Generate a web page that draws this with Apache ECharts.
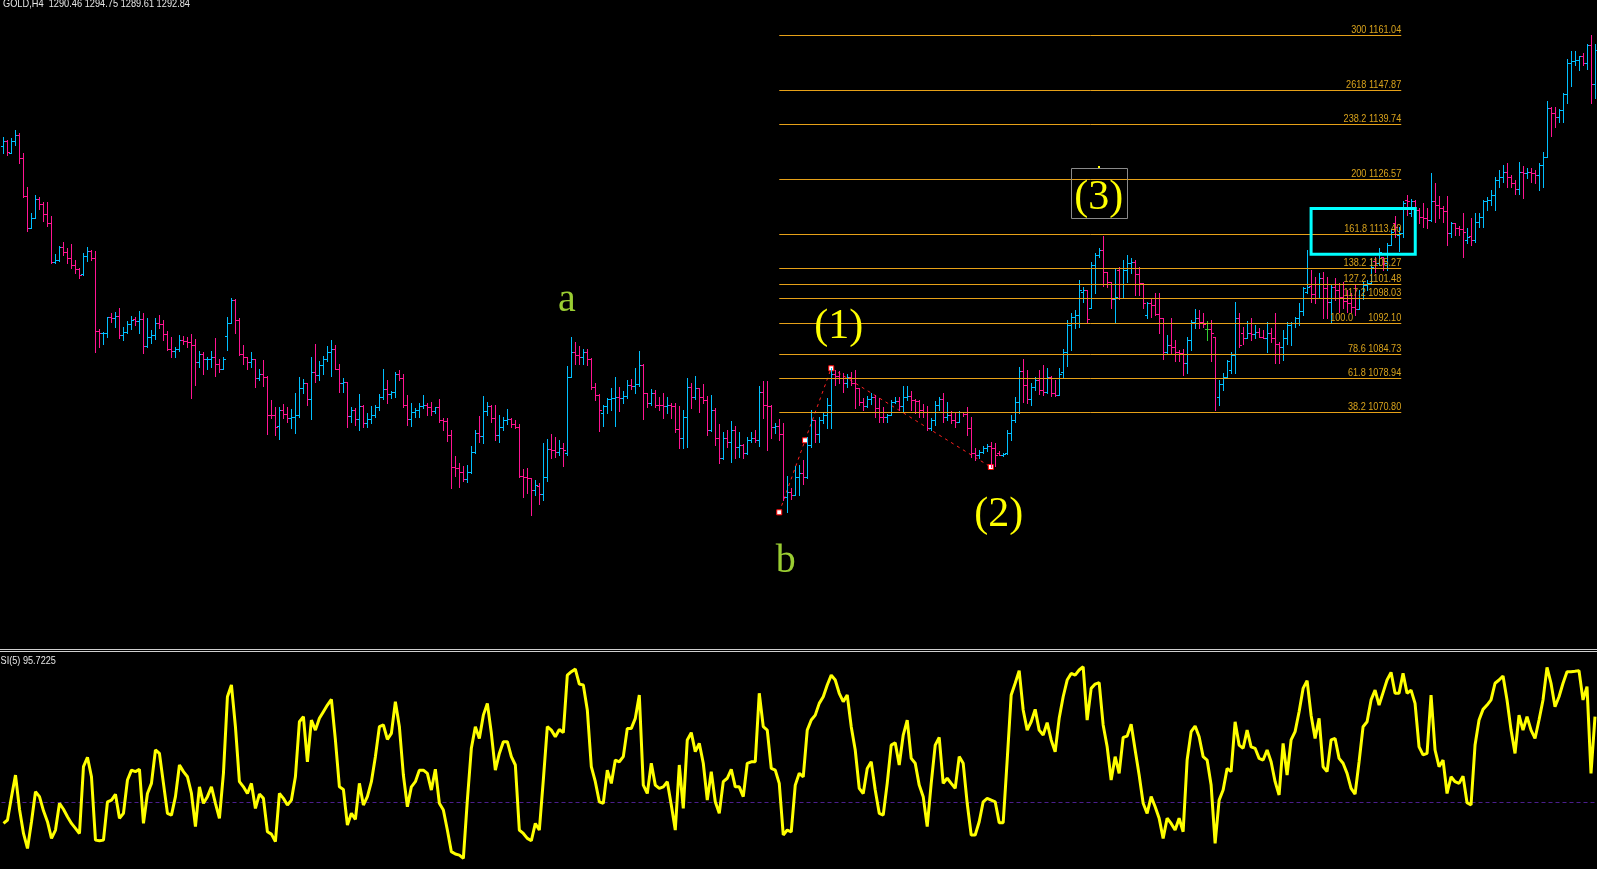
<!DOCTYPE html>
<html><head><meta charset="utf-8">
<script src="https://cdn.jsdelivr.net/npm/echarts/dist/echarts.min.js"></script>
<style>html,body{margin:0;padding:0;background:#000;overflow:hidden}#c{width:1597px;height:869px}</style>
</head><body><div id="c"></div><script>
// ---------- DATA ----------
// OHLC bars [open, high, low, close], GOLD H4
const bars = [
[1134.5,1136.7,1132.7,1135.7],[1135.7,1135.9,1132.3,1133.1],[1132.9,1136.3,1132.7,1135.7],[1135.7,1138.3,1134.7,1137.1],[1137.1,1137.7,1130.5,1131.5],
[1131.5,1132.9,1122.3,1122.6],[1122.6,1124.7,1114.2,1114.8],[1114.8,1118.4,1114.8,1117.3],[1117.3,1122.7,1117.2,1121.7],[1121.7,1122.3,1119.5,1120.7],
[1120.7,1121.1,1116.6,1118.1],[1118.1,1121.1,1115.3,1116.0],[1116.0,1117.7,1106.4,1106.8],[1106.8,1108.6,1106.4,1107.2],[1107.2,1110.5,1107.0,1110.4],
[1110.4,1111.5,1108.4,1109.2],[1109.2,1110.0,1106.4,1107.7],[1107.7,1111.0,1105.2,1105.9],[1105.9,1107.2,1104.0,1105.0],[1105.0,1105.2,1102.8,1103.6],
[1103.8,1108.8,1103.6,1108.2],[1108.2,1110.2,1107.0,1109.3],[1109.3,1109.6,1107.2,1107.7],[1107.7,1109.3,1085.2,1090.2],[1090.2,1090.6,1086.4,1089.6],
[1089.6,1090.0,1087.2,1089.8],[1089.6,1093.6,1088.8,1093.5],[1093.5,1094.6,1092.4,1093.3],[1093.3,1094.8,1091.2,1093.9],[1093.9,1095.6,1088.4,1089.2],
[1089.2,1091.2,1088.0,1089.9],[1089.9,1092.6,1089.6,1091.9],[1091.9,1093.8,1090.7,1092.8],[1093.0,1093.6,1091.6,1092.7],[1092.7,1095.0,1089.6,1093.0],
[1093.0,1094.4,1085.0,1086.7],[1086.7,1093.2,1086.4,1088.7],[1088.7,1090.4,1087.4,1089.2],[1089.2,1093.2,1088.2,1092.0],[1092.0,1094.0,1090.8,1091.9],
[1091.9,1092.8,1088.0,1089.4],[1089.4,1090.3,1085.6,1085.8],[1085.8,1088.7,1084.0,1085.4],[1085.4,1086.3,1084.0,1086.0],[1086.0,1089.2,1085.5,1088.0],
[1088.0,1089.0,1087.1,1087.9],[1087.9,1088.7,1086.4,1087.6],[1087.6,1089.5,1074.1,1086.8],[1086.8,1088.3,1077.3,1082.7],[1082.7,1085.5,1081.6,1084.8],
[1084.8,1085.2,1079.9,1083.4],[1083.4,1084.0,1081.2,1083.5],[1083.5,1085.5,1081.6,1083.9],[1083.9,1088.4,1079.4,1082.4],[1082.4,1083.4,1080.4,1081.2],
[1081.2,1083.9,1081.2,1083.6],[1089.1,1093.6,1085.6,1092.0],[1092.0,1098.0,1092.0,1097.6],[1097.6,1097.8,1089.8,1092.8],[1092.8,1093.2,1084.4,1084.7],
[1084.7,1086.8,1082.4,1083.9],[1083.9,1084.0,1081.2,1082.7],[1082.7,1085.2,1081.5,1083.4],[1083.4,1083.6,1076.9,1078.9],[1078.9,1081.2,1078.5,1080.0],
[1080.0,1083.2,1077.1,1079.1],[1079.1,1079.4,1065.5,1070.2],[1070.2,1073.7,1069.3,1070.1],[1070.1,1072.1,1065.3,1067.3],[1067.4,1071.9,1064.3,1071.3],
[1071.3,1072.7,1069.4,1070.3],[1070.3,1072.1,1068.5,1069.4],[1069.4,1071.6,1066.9,1069.7],[1069.7,1075.3,1065.9,1070.1],[1070.1,1079.3,1069.7,1076.5],
[1076.5,1078.6,1075.4,1077.7],[1077.7,1077.8,1072.5,1073.8],[1073.8,1083.9,1069.1,1080.4],[1080.4,1087.2,1077.9,1079.7],[1079.7,1083.1,1078.5,1082.0],
[1082.0,1084.2,1080.0,1083.4],[1083.4,1086.7,1083.1,1085.1],[1085.1,1088.0,1079.4,1085.8],[1085.8,1086.8,1081.1,1081.2],[1081.2,1082.4,1075.7,1077.7],
[1077.7,1078.9,1075.7,1077.9],[1077.9,1078.1,1067.3,1069.8],[1069.8,1072.1,1068.5,1071.3],[1071.3,1071.7,1067.7,1069.1],[1069.1,1075.1,1066.5,1072.3],
[1072.3,1072.5,1067.1,1068.2],[1068.2,1070.5,1067.1,1069.1],[1069.1,1072.2,1068.2,1070.1],[1070.1,1072.5,1069.5,1071.9],[1071.9,1075.1,1071.4,1074.5],
[1074.5,1081.2,1073.8,1076.3],[1076.3,1078.5,1072.9,1075.1],[1075.1,1075.9,1074.1,1075.7],[1075.7,1080.4,1074.5,1080.0],[1080.0,1080.8,1078.5,1078.9],
[1078.9,1080.0,1071.9,1072.6],[1072.6,1074.9,1067.7,1069.1],[1069.1,1072.9,1067.5,1070.7],[1070.7,1071.7,1069.5,1071.3],[1071.3,1073.0,1069.7,1072.3],
[1072.3,1074.9,1071.7,1072.4],[1072.4,1072.9,1070.1,1072.0],[1072.0,1073.3,1070.2,1071.0],[1071.0,1072.1,1070.5,1071.9],[1071.9,1073.9,1068.5,1068.9],
[1068.9,1069.3,1066.5,1068.7],[1068.7,1069.4,1063.9,1065.3],[1065.3,1066.6,1052.7,1057.7],[1057.7,1060.3,1055.6,1057.5],[1057.5,1058.7,1052.9,1056.4],
[1056.4,1057.9,1054.4,1054.8],[1054.8,1058.1,1054.1,1056.4],[1056.4,1062.7,1056.1,1061.3],[1061.3,1066.6,1061.1,1065.9],[1065.9,1069.8,1063.7,1065.0],
[1065.0,1074.6,1063.3,1071.1],[1071.1,1073.1,1070.1,1072.3],[1072.3,1072.5,1068.5,1069.3],[1069.3,1072.6,1064.1,1065.3],[1065.3,1070.1,1063.7,1067.1],
[1067.1,1069.7,1066.6,1069.0],[1069.0,1071.5,1067.9,1069.1],[1069.1,1069.4,1067.3,1067.9],[1067.9,1069.0,1066.9,1067.3],[1067.3,1067.9,1055.3,1055.5],
[1055.5,1057.1,1050.4,1055.3],[1055.3,1057.3,1051.5,1054.9],[1054.9,1054.9,1046.1,1052.1],[1052.1,1054.5,1050.9,1053.3],[1053.2,1053.7,1048.9,1051.2],
[1051.2,1063.3,1049.7,1055.2],[1055.2,1064.3,1054.4,1062.0],[1062.0,1065.5,1059.7,1061.7],[1061.7,1064.9,1060.1,1061.3],[1061.3,1064.1,1060.5,1062.1],
[1062.1,1063.3,1057.9,1061.8],[1060.9,1081.7,1060.5,1079.1],[1079.1,1088.7,1079.1,1085.2],[1085.2,1087.6,1082.2,1084.5],[1084.5,1086.6,1082.2,1084.0],
[1084.0,1085.8,1082.3,1085.2],[1085.2,1085.8,1082.1,1083.4],[1083.4,1083.7,1076.2,1076.9],[1076.9,1077.7,1073.7,1074.9],[1074.9,1075.1,1066.3,1071.3],
[1070.5,1072.5,1067.5,1072.2],[1072.2,1074.1,1070.5,1073.9],[1073.9,1076.5,1071.3,1074.2],[1074.2,1079.1,1067.5,1074.5],[1074.5,1076.9,1071.1,1074.2],
[1074.2,1075.9,1072.9,1074.6],[1074.6,1078.5,1074.2,1077.3],[1077.3,1078.6,1076.2,1077.1],[1077.1,1081.3,1075.3,1077.5],[1077.5,1085.4,1077.0,1082.1],
[1082.1,1082.3,1069.2,1075.3],[1075.3,1075.3,1071.9,1072.9],[1072.9,1076.3,1072.5,1075.3],[1075.3,1076.1,1072.1,1072.6],[1072.6,1074.5,1071.3,1072.5],
[1072.5,1075.4,1069.3,1072.3],[1072.3,1074.5,1070.5,1072.5],[1072.5,1072.9,1069.3,1072.2],[1072.2,1072.9,1066.1,1066.7],[1066.7,1072.2,1062.3,1064.5],
[1064.5,1071.3,1062.3,1069.7],[1069.7,1078.9,1062.5,1076.9],[1076.9,1077.7,1071.7,1074.5],[1074.5,1079.4,1073.8,1076.5],[1076.5,1076.5,1070.9,1074.5],
[1074.5,1077.4,1072.9,1073.7],[1073.7,1074.6,1065.3,1066.5],[1066.5,1074.9,1066.3,1071.3],[1071.3,1071.7,1062.9,1064.5],[1064.5,1067.9,1058.5,1059.7],
[1059.7,1066.1,1059.5,1064.5],[1064.5,1066.5,1062.5,1063.7],[1063.7,1068.7,1058.9,1066.5],[1066.5,1067.5,1059.7,1062.5],[1062.5,1066.1,1060.0,1062.9],
[1062.9,1063.1,1059.9,1060.9],[1060.9,1064.9,1060.7,1064.2],[1064.2,1066.1,1063.7,1064.5],[1064.5,1066.5,1063.7,1064.2],[1064.2,1077.0,1062.7,1075.7],
[1075.7,1078.2,1069.4,1072.6],[1072.6,1078.2,1061.7,1072.2],[1072.2,1072.5,1064.5,1067.3],[1067.3,1068.2,1065.9,1067.4],[1067.4,1069.1,1064.0,1065.5],
[1065.5,1068.1,1049.7,1050.5],[1050.5,1055.5,1046.9,1051.7],[1051.7,1052.5,1049.9,1050.9],[1050.9,1057.9,1050.9,1055.3],[1055.3,1058.1,1050.9,1056.3],
[1056.3,1059.3,1053.6,1055.3],[1055.3,1064.9,1055.0,1062.9],[1062.9,1071.4,1062.5,1068.9],[1068.9,1069.0,1063.7,1065.5],[1065.5,1069.5,1063.7,1068.9],
[1068.9,1070.6,1068.1,1070.1],[1070.1,1074.1,1066.9,1072.5],[1072.5,1081.4,1066.9,1079.8],[1079.8,1080.9,1077.3,1079.4],[1079.4,1080.7,1077.8,1078.9],
[1078.9,1080.1,1075.7,1077.8],[1077.8,1079.8,1076.9,1079.3],[1079.3,1080.5,1077.3,1077.7],[1077.7,1080.9,1071.7,1076.6],[1076.6,1076.6,1072.5,1073.3],
[1073.3,1074.1,1071.4,1072.2],[1072.2,1074.6,1072.1,1073.8],[1073.8,1075.3,1072.7,1074.5],[1074.5,1074.9,1069.5,1071.7],[1071.7,1074.1,1068.3,1069.7],
[1069.7,1072.1,1068.5,1069.5],[1069.5,1070.3,1068.5,1070.1],[1070.1,1073.7,1070.0,1073.3],[1073.3,1074.5,1072.9,1073.5],[1073.5,1074.5,1071.3,1072.2],
[1072.2,1077.0,1070.9,1074.5],[1074.5,1077.0,1073.7,1074.7],[1074.7,1075.9,1071.3,1073.7],[1073.7,1073.9,1070.5,1073.5],[1073.5,1073.6,1069.7,1071.3],
[1071.3,1072.7,1069.7,1070.9],[1070.9,1072.2,1066.5,1067.0],[1067.0,1069.3,1066.5,1068.9],[1068.9,1073.5,1067.7,1072.6],[1072.6,1074.3,1071.3,1073.8],
[1073.8,1075.3,1068.5,1069.5],[1069.5,1073.3,1068.9,1070.1],[1070.1,1071.1,1068.1,1068.9],[1068.9,1070.6,1067.3,1068.5],[1068.5,1071.1,1068.5,1070.9],
[1070.9,1070.9,1069.8,1070.3],[1070.3,1071.9,1065.3,1067.0],[1067.0,1069.7,1060.1,1060.9],[1060.9,1062.3,1059.4,1060.5],[1060.5,1061.7,1059.7,1061.3],
[1061.3,1062.7,1060.9,1062.3],[1062.3,1063.1,1061.5,1062.6],[1062.6,1063.7,1057.7,1062.2],[1062.2,1063.3,1058.0,1060.6],[1060.9,1061.4,1060.4,1060.6],
[1060.6,1061.0,1060.3,1060.8],[1061.0,1066.5,1060.8,1065.9],[1065.9,1070.1,1064.1,1068.9],[1068.9,1074.5,1068.5,1073.3],[1073.3,1081.5,1070.5,1080.6],
[1080.6,1083.4,1073.3,1077.3],[1077.3,1080.9,1072.9,1074.0],[1074.0,1077.7,1072.5,1076.9],[1076.9,1079.3,1076.1,1078.5],[1078.5,1080.9,1075.1,1076.1],
[1076.1,1082.1,1074.9,1075.5],[1075.5,1081.3,1075.3,1079.3],[1079.3,1079.5,1074.6,1075.3],[1075.3,1078.5,1074.6,1074.9],[1074.9,1081.3,1074.8,1079.9],
[1080.5,1085.8,1079.3,1085.2],[1085.2,1092.8,1081.7,1091.6],[1091.6,1094.4,1085.6,1093.6],[1093.6,1095.2,1090.8,1094.0],[1094.0,1102.5,1091.2,1100.0],
[1099.6,1100.8,1097.2,1099.9],[1099.9,1100.0,1092.0,1093.0],[1095.6,1106.8,1095.6,1106.0],[1106.0,1108.9,1099.2,1108.4],[1108.4,1110.0,1108.0,1109.5],
[1109.5,1112.9,1100.9,1104.4],[1104.4,1104.4,1100.8,1102.0],[1102.0,1102.0,1095.6,1097.8],[1097.8,1105.2,1092.0,1098.4],[1104.8,1105.4,1097.8,1098.2],
[1098.2,1107.2,1098.0,1104.8],[1104.8,1108.4,1102.0,1106.4],[1106.4,1107.6,1104.0,1106.8],[1106.8,1107.2,1098.8,1103.8],[1103.8,1105.6,1098.8,1101.6],
[1101.6,1101.6,1095.6,1096.8],[1094.0,1097.2,1093.2,1096.8],[1096.8,1098.0,1093.6,1096.4],[1096.4,1099.2,1094.0,1094.2],[1094.2,1099.2,1089.6,1093.2],
[1093.2,1093.2,1083.4,1085.2],[1085.2,1089.2,1084.9,1086.8],[1086.8,1093.2,1084.7,1086.4],[1086.4,1088.0,1082.9,1085.2],[1085.2,1085.6,1083.1,1084.9],
[1084.9,1086.0,1079.7,1082.5],[1082.5,1088.8,1080.2,1088.0],[1088.0,1092.8,1085.6,1092.4],[1092.4,1095.4,1090.8,1093.2],[1093.2,1095.2,1090.8,1092.4],
[1092.4,1094.4,1091.2,1091.8],[1090.6,1092.7,1088.0,1090.6],[1090.6,1092.8,1082.9,1089.6],[1088.8,1088.8,1071.3,1078.9],[1074.5,1078.5,1072.5,1077.5],
[1077.5,1080.1,1076.1,1079.3],[1079.3,1083.3,1079.3,1082.9],[1080.9,1085.2,1080.1,1084.5],[1084.5,1097.2,1080.1,1093.2],[1093.2,1094.4,1086.4,1086.8],
[1089.6,1091.2,1087.2,1088.6],[1088.6,1092.7,1088.4,1089.6],[1089.6,1093.2,1088.0,1089.5],[1089.5,1091.6,1088.4,1090.0],[1090.0,1090.8,1088.7,1088.8],
[1088.8,1090.4,1088.4,1088.6],[1088.6,1092.4,1085.2,1089.6],[1089.6,1090.8,1087.6,1088.4],[1088.4,1094.4,1082.5,1087.2],[1087.2,1087.6,1082.5,1086.4],
[1086.4,1090.4,1083.3,1088.5],[1088.5,1092.4,1087.2,1091.6],[1091.6,1092.4,1086.8,1092.0],[1092.0,1093.6,1091.2,1093.2],[1093.2,1096.8,1091.6,1095.0],
[1095.0,1100.8,1094.0,1100.4],[1099.6,1109.6,1099.2,1100.8],[1101.0,1104.9,1097.2,1099.0],[1099.0,1103.2,1096.8,1098.0],[1098.0,1104.0,1098.0,1102.8],
[1102.8,1104.4,1093.2,1100.4],[1100.4,1103.2,1093.2,1097.2],[1097.2,1101.2,1092.4,1100.8],[1100.8,1102.8,1097.6,1100.0],[1100.0,1101.8,1094.8,1098.4],
[1098.4,1102.0,1095.6,1097.4],[1097.4,1100.0,1094.8,1097.0],[1097.0,1099.2,1094.8,1096.0],[1096.0,1101.2,1094.0,1095.4],[1095.4,1100.0,1095.4,1098.0],
[1098.0,1102.0,1097.8,1101.2],[1101.2,1102.4,1100.0,1101.8],[1101.8,1107.6,1101.6,1105.6],[1107.0,1108.0,1104.4,1106.4],[1106.4,1110.0,1106.0,1109.2],
[1108.0,1108.0,1104.9,1106.4],[1106.4,1111.3,1104.8,1110.8],[1110.8,1114.5,1110.8,1113.9],[1116.0,1117.7,1112.6,1115.2],[1113.2,1115.0,1109.4,1113.6],
[1113.6,1121.2,1112.8,1120.8],[1121.6,1122.8,1118.0,1121.2],[1118.5,1121.7,1117.7,1121.2],[1121.2,1121.6,1116.4,1119.2],[1119.2,1119.6,1116.0,1117.6],
[1117.6,1120.8,1115.2,1117.2],[1117.2,1119.6,1114.8,1116.8],[1116.8,1127.9,1116.5,1121.2],[1121.2,1125.7,1116.4,1120.4],[1120.4,1122.4,1117.2,1119.6],
[1119.6,1120.0,1116.4,1118.8],[1118.8,1122.4,1110.8,1113.6],[1113.6,1116.4,1112.8,1116.0],[1116.0,1116.1,1113.2,1114.8],[1114.8,1115.3,1113.2,1114.5],
[1114.5,1118.4,1108.0,1114.0],[1112.0,1114.8,1111.3,1112.6],[1113.0,1117.2,1110.8,1112.0],[1112.0,1118.4,1111.6,1116.4],[1116.4,1118.4,1115.2,1117.6],
[1117.6,1121.6,1115.2,1121.2],[1121.2,1122.2,1119.2,1121.6],[1121.6,1123.9,1120.4,1122.8],[1122.8,1127.1,1119.2,1126.3],[1126.3,1128.7,1124.7,1127.1],
[1127.1,1129.9,1125.9,1128.3],[1128.3,1130.3,1124.7,1127.1],[1127.1,1127.5,1124.7,1125.5],[1125.5,1126.3,1123.1,1124.3],[1124.3,1130.7,1123.1,1128.3],
[1128.3,1129.7,1122.0,1127.9],[1127.9,1129.1,1126.7,1128.3],[1128.3,1129.1,1125.9,1128.0],[1128.0,1128.7,1125.5,1127.5],[1127.5,1130.3,1123.9,1129.9],
[1129.9,1133.1,1124.7,1131.9],[1131.9,1145.3,1131.9,1143.5],[1143.5,1143.7,1136.9,1142.3],[1142.3,1143.7,1139.1,1141.5],[1141.5,1143.3,1140.3,1143.1],
[1143.1,1147.2,1140.3,1146.9],[1146.9,1155.2,1144.7,1154.3],[1154.3,1157.1,1148.8,1154.7],[1154.7,1157.1,1153.9,1155.1],[1155.1,1156.0,1152.7,1155.9],
[1155.9,1156.7,1153.9,1154.3],[1154.3,1159.0,1153.0,1158.6],[1158.6,1161.0,1144.7,1149.2],[1149.2,1159.0,1145.9,1157.5]
];

// RSI(5) values, one per bar
const rsi = [
19.9,21.5,32.4,42.5,26.5,15.2,8.2,20.7,34.7,32.4, 25.8,20.7,12.9,16.8,29.3,26.5,23.0,19.9,17.6,15.2,
46.4,50.8,41.7,12.1,11.8,12.1,30.0,30.8,33.5,22.3, 24.6,40.2,44.8,44.1,45.2,19.9,33.9,38.6,54.2,52.6,
38.6,24.6,23.8,32.4,47.2,44.1,41.7,33.9,18.4,37.0, 29.3,32.4,37.0,29.3,22.3,43.3,79.1,84.6,65.1,39.4,
37.0,33.9,38.6,26.9,33.6,31.6,16.0,14.9,11.4,33.9, 31.6,28.5,30.8,41.7,67.4,69.8,48.7,68.2,63.5,69.0,
72.1,75.2,77.9,58.9,37.0,35.8,19.1,24.6,21.8,38.6, 28.5,32.4,39.4,51.1,65.1,65.9,59.2,62.0,76.8,65.1,
42.5,27.7,37.0,39.4,44.8,44.8,43.3,35.5,45.2,29.3, 26.2,16.8,6.7,5.6,5.1,3.6,30.8,55.0,65.1,59.6,
70.5,76.0,62.0,44.8,52.6,58.1,58.1,51.1,47.2,16.8, 15.2,12.9,11.8,19.9,16.8,
40.2,65.1,63.5,60.4,63.8,62.3,89.2,90.8,92.0,85.0, 84.6,72.9,46.4,39.4,30.0,29.3,44.8,38.6,49.5,48.7,
51.1,64.3,64.3,69.0,79.9,37.8,33.9,48.0,37.8,36.3, 37.0,39.4,28.5,16.8,47.2,26.9,58.9,62.3,53.4,57.3,
48.0,30.8,44.1,30.0,24.6,39.4,41.0,45.2,37.0,37.0, 32.4,48.0,48.7,48.7,80.7,65.1,63.5,45.6,44.8,38.6,
14.5,16.8,16.0,37.8,43.3,41.7,63.5,68.2,70.5,76.0, 79.1,84.6,89.2,86.9,80.7,76.8,79.9,65.1,54.2,36.3,
33.9,45.6,48.7,35.5,24.6,23.8,38.6,56.5,57.6,47.2, 61.2,68.2,50.3,48.0,37.8,32.4,18.4,38.6,56.5,60.1,
38.6,41.0,38.6,36.3,51.1,48.0,29.3,14.5,14.5,20.7, 30.0,31.6,30.8,30.0,20.2,20.2,49.5,79.9,85.4,91.3,
72.9,63.5,67.4,73.2,63.5,61.2,67.0,58.9,53.4,69.0,
79.1,86.9,90.0,89.2,91.6,93.1,68.2,83.0,85.0,85.7, 65.9,55.7,40.2,51.1,43.3,60.1,60.7,66.3,54.2,42.5,
29.3,24.6,32.4,27.7,22.3,12.9,22.3,19.9,16.8,22.3, 16.0,49.5,62.8,65.4,60.4,51.1,49.5,37.8,10.6,30.8,
35.5,45.6,44.1,67.4,56.5,55.0,63.5,55.7,55.0,50.3, 49.5,54.2,48.7,39.4,33.2,57.3,42.5,58.9,62.8,72.1,
83.0,86.6,70.5,59.6,69.0,46.4,44.1,58.9,59.6,50.3, 48.0,43.3,36.3,33.6,48.7,65.1,67.4,77.6,82.2,75.2,
81.0,86.9,90.5,80.7,80.7,90.0,80.7,82.2,76.0,55.7, 51.9,52.6,79.9,54.2,46.4,49.5,33.9,41.7,39.4,38.6,
42.0,29.6,28.5,56.5,68.2,73.2,75.2,77.6,85.4,86.9, 88.8,77.6,63.5,52.6,70.5,63.5,69.8,63.5,59.6,68.2,
77.6,92.8,85.4,74.4,79.1,85.4,90.8,90.8,91.0,91.3, 77.6,83.8,43.3,69.8
];

// Fibonacci expansion levels and prices
const fibLevels = ['300','2618','238.2','200','161.8','138.2','127.2','117.2','100.0','78.6','61.8','38.2'];
const fibPrices = [1161.04,1147.87,1139.74,1126.57,1113.40,1105.27,1101.48,1098.03,1092.10,1084.73,1078.94,1070.80];
const fibSpan = [194, 349.55];              // bar-index span of fib lines
const rsiLevel = 30;

// Zigzag (wave b -> (1) -> (2)) points [barIndex, price]
const zigzag = [[194,1046.80],[200.45,1064.03],[207,1081.27],[246.9,1057.64]];

// Wave labels [text, barIndex, price]
const waveLabels = [['(1)',208.9,1091.1],['(2)',248.9,1046.1],['(3)',273.9,1122.0]];
const letterLabels = [['a',140.9,1097.6],['b',195.6,1035.1]];
const box3 = [267.0,1129.09,281.0,1117.12];      // grey box around (3)
const cyanBox = [327.0,1119.51,353.05,1108.58];  // highlighted zone

const header = 'GOLD,H4  1290.46 1294.75 1289.61 1292.84';
const rsiTitle = 'RSI(5) 95.7225';
const priceRange = [1014.32, 1169.42];

// ---------- CHART ----------
const BULL = '#00bfff', BEAR = '#ff1493', DOJI = '#32cd32';
const FIB = '#e6a118';
const N = bars.length;
const chart = echarts.init(document.getElementById('c'), null, {renderer:'canvas'});

function renderBar(params, api){
  const i = api.value(0), o = api.value(1), h = api.value(2), l = api.value(3), c = api.value(4);
  const ph = api.coord([i,h]), pl = api.coord([i,l]), po = api.coord([i,o]), pc = api.coord([i,c]);
  const x = Math.floor(ph[0]) + 0.5;
  const col = c > o ? BULL : (c < o ? BEAR : DOJI);
  const yH = Math.round(ph[1]), yL = Math.max(Math.round(pl[1]), yH + 1);
  const yO = Math.round(po[1]) + 0.5, yC = Math.round(pc[1]) + 0.5;
  const st = {stroke: col, lineWidth: 1};
  return {type:'group', children:[
    {type:'line', shape:{x1:x,y1:yH,x2:x,y2:yL+1}, style:st},
    {type:'line', shape:{x1:x-2.5,y1:yO,x2:x-0.5,y2:yO}, style:st},
    {type:'line', shape:{x1:x+0.5,y1:yC,x2:x+2.5,y2:yC}, style:st}
  ]};
}

const option = {
  backgroundColor:'#000000',
  animation:false,
  grid:[{left:1.5, top:0, width:1596, height:648},{left:1.5, top:652, width:1596, height:214}],
  xAxis:[
    {type:'value', gridIndex:0, min:-0.5, max:N-0.5, show:false},
    {type:'value', gridIndex:1, min:-0.5, max:N-0.5, show:false}
  ],
  yAxis:[
    {type:'value', gridIndex:0, min:priceRange[0], max:priceRange[1], show:false, splitLine:{show:false}},
    {type:'value', gridIndex:1, min:0, max:100, show:false, splitLine:{show:false}}
  ],
  series:[
    {
      type:'line', xAxisIndex:0, yAxisIndex:0, z:3,
      data: zigzag,
      symbol:'rect', symbolSize:5, showAllSymbol:true,
      itemStyle:{color:'#ffffff', borderColor:'#ff0000', borderWidth:1},
      lineStyle:{color:'#ff2020', width:1, type:[3,4]},
      markLine:{
        silent:true, symbol:'none', animation:false,
        label:{show:false},
        lineStyle:{color:FIB, width:1, type:'solid'},
        data: fibPrices.map(p => [{coord:[fibSpan[0], p]},{coord:[fibSpan[1], p]}])
      }
    },
    {
      type:'custom', xAxisIndex:0, yAxisIndex:0, z:4,
      data: bars.map((b,i) => [i, b[0], b[1], b[2], b[3]]),
      encode:{x:0, y:[1,2,3,4]},
      renderItem: renderBar
    },
    {
      type:'line', xAxisIndex:1, yAxisIndex:1, z:5,
      data: rsi.map((v,i) => [i, v]),
      symbol:'none', smooth:false,
      lineStyle:{color:'#ffff00', width:3},
      markLine:{
        silent:true, symbol:'none', label:{show:false},
        lineStyle:{color:'#4b1e8c', width:1, type:[4,3]},
        data:[{yAxis:rsiLevel}]
      }
    }
  ]
};
chart.setOption(option);

// ---------- annotations positioned through the chart's scales ----------
const P = (x, y) => chart.convertToPixel({gridIndex:0}, [x, y]);
const g = [];
g.push({type:'rect', shape:{x:0,y:649,width:1597,height:1}, style:{fill:'#d0d0d0'}, silent:true});
g.push({type:'rect', shape:{x:0,y:651,width:1597,height:1}, style:{fill:'#d0d0d0'}, silent:true});
g.push({type:'text', x:3, y:4, scaleX:0.84, style:{text:header, font:'11px "Liberation Sans", Arial, sans-serif', fill:'#e6e6e6', align:'left', verticalAlign:'middle'}});
g.push({type:'text', x:-6, y:661, scaleX:0.83, style:{text:rsiTitle, font:'11px "Liberation Sans", Arial, sans-serif', fill:'#e6e6e6', align:'left', verticalAlign:'middle'}});
fibPrices.forEach((p, k) => {
  const pt = P(fibSpan[1], p);
  const txt = fibLevels[k] === '100.0' ? '100.0      ' + p.toFixed(2) : fibLevels[k] + ' ' + p.toFixed(2);
  g.push({type:'text', x:pt[0], y:pt[1] + 0.5, scaleX:0.83, z:10,
    style:{text:txt, font:'11px "Liberation Sans", Arial, sans-serif', fill:'#d9a31c', align:'right', verticalAlign:'bottom'}});
});
// (3) grey box
(function(){
  const a = P(box3[0], box3[1]), b = P(box3[2], box3[3]);
  g.push({type:'rect', z:9, shape:{x:Math.round(a[0])+0.5, y:Math.round(a[1])+0.5, width:Math.round(b[0]-a[0]), height:Math.round(b[1]-a[1])},
    style:{fill:null, stroke:'#8a8a8a', lineWidth:1}});
  const d = P((box3[0]+box3[2])/2, box3[1]);
  g.push({type:'rect', z:9, shape:{x:Math.round(d[0])-1, y:Math.round(d[1])-2, width:2, height:2}, style:{fill:'#ffff00'}});
})();
// cyan zone box
(function(){
  const a = P(cyanBox[0], cyanBox[1]), b = P(cyanBox[2], cyanBox[3]);
  g.push({type:'rect', z:12, shape:{x:a[0], y:a[1], width:b[0]-a[0], height:b[1]-a[1]},
    style:{fill:null, stroke:'#00ffff', lineWidth:3}});
})();
waveLabels.forEach(w => {
  const pt = P(w[1], w[2]);
  g.push({type:'text', z:11, x:pt[0], y:pt[1], style:{text:w[0], font:'42px "Liberation Serif", "Times New Roman", serif', fill:'#ffff00', align:'center', verticalAlign:'middle'}});
});
letterLabels.forEach(w => {
  const pt = P(w[1], w[2]);
  g.push({type:'text', z:11, x:pt[0], y:pt[1], style:{text:w[0], font:'40px "Liberation Serif", "Times New Roman", serif', fill:'#9acd32', align:'center', verticalAlign:'middle'}});
});
chart.setOption({graphic:{elements:g}});
</script></body></html>
